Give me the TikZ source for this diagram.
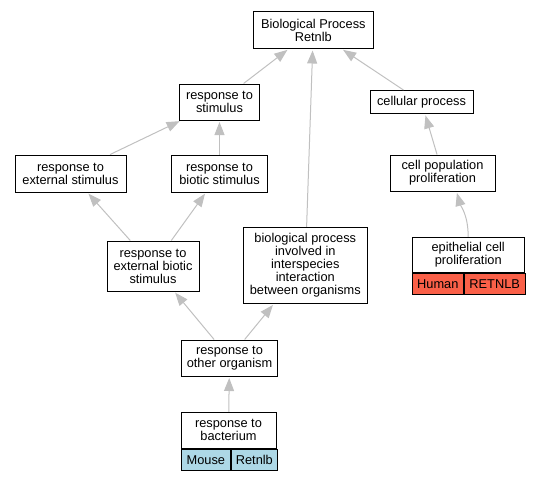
\documentclass[tikz,border=0pt]{standalone}
\usepackage{fontspec}
\setmainfont{Liberation Sans}
\usetikzlibrary{arrows.meta}
\definecolor{edgegray}{RGB}{192,192,192}
\definecolor{mouseblue}{RGB}{173,216,230}
\definecolor{humanred}{RGB}{250,96,72}
\begin{document}
\begin{tikzpicture}[x=1pt,y=-1pt,>={Triangle[length=13pt,width=10pt]},
    term/.style={draw,line width=1pt,fill=white,align=center,inner sep=0pt,
      font=\fontsize{12.8}{13}\selectfont},
    cell/.style={term,anchor=north west,minimum height=21},
    edge/.style={->,edgegray,line width=1pt,shorten >=1.5pt}]
  % Canvas
  \useasboundingbox (0,0) rectangle (539,480);
  %
  % Terms
  \node[term,minimum width=120,minimum height=37] (bp)         at (313.3,30)  {Biological Process\\Retnlb};
  \node[term,minimum width=80,minimum height=36]  (stim)       at (219.5,102) {response to\\stimulus};
  \node[term,minimum width=103,minimum height=23] (cellproc)   at (421.5,102) {cellular process};
  \node[term,minimum width=111,minimum height=37] (extstim)    at (70.5,173.5)  {response to\\external stimulus};
  \node[term,minimum width=96,minimum height=37]  (bioticstim) at (219.5,173.5) {response to\\biotic stimulus};
  \node[term,minimum width=105,minimum height=36] (cellprolif) at (442.5,173)   {cell population\\proliferation};
  \node[term,minimum width=92,minimum height=50]  (extbiotic)  at (153,266)     {response to\\external biotic\\stimulus};
  \node[term,minimum width=124,minimum height=76] (interspec)  at (305.3,265.3)
    {biological process\\involved in\\interspecies\\interaction\\between organisms};
  \node[term,minimum width=96,minimum height=36]  (other)      at (229.5,358)   {response to\\other organism};
  %
  % Annotated terms (with species / gene rows)
  \node[term,minimum width=95,minimum height=36]  (bact)       at (228.5,430.3) {response to\\bacterium};
  \node[cell,fill=mouseblue,minimum width=49.7] (bactsp)   at (bact.south west) {Mouse};
  \node[cell,fill=mouseblue,minimum width=45.3] (bactgene) at (bactsp.north east) {Retnlb};
  %
  \node[term,minimum width=111.7,minimum height=35] (epi)      at (468.2,254.8) {epithelial cell\\proliferation};
  \node[cell,fill=humanred,minimum width=51]    (episp)    at (epi.south west) {Human};
  \node[cell,fill=humanred,minimum width=60.7]  (epigene)  at (episp.north east) {RETNLB};
  %
  % Edges (child to parent)
  \draw[edge] (stim) -- (bp);
  \draw[edge] (interspec) -- (bp);
  \draw[edge] (cellproc) -- (bp);
  \draw[edge] (extstim) -- (stim);
  \draw[edge] (bioticstim) -- (stim);
  \draw[edge] (extbiotic) -- (extstim);
  \draw[edge] (extbiotic) -- (bioticstim);
  \draw[edge] (other) -- (extbiotic);
  \draw[edge] (other) -- (interspec);
  \draw[edge] (bact) -- (other);
  \draw[edge] (cellprolif) -- (cellproc);
  \draw[edge] (epi.north) .. controls +(0,-22) and +(4,14) .. ([xshift=14]cellprolif.south);
  %
\end{tikzpicture}
\end{document}
